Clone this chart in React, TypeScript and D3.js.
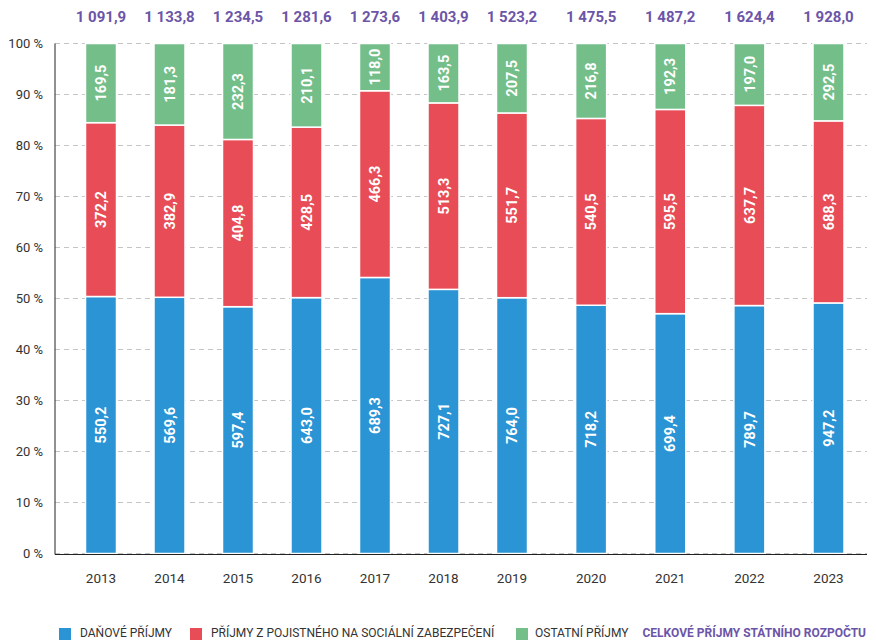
import React from "react";
import * as d3 from "d3";

// mld Kč
const years = [2013, 2014, 2015, 2016, 2017, 2018, 2019, 2020, 2021, 2022, 2023];
const danove = [550.2, 569.6, 597.4, 643.0, 689.3, 727.1, 764.0, 718.2, 699.4, 789.7, 947.2];
const pojistne = [372.2, 382.9, 404.8, 428.5, 466.3, 513.3, 551.7, 540.5, 595.5, 637.7, 688.3];
const ostatni = [169.5, 181.3, 232.3, 210.1, 118.0, 163.5, 207.5, 216.8, 192.3, 197.0, 292.5];
const celkem = [1091.9, 1133.8, 1234.5, 1281.6, 1273.6, 1403.9, 1523.2, 1475.5, 1487.2, 1624.4, 1928.0];
const yTicks = [0, 10, 20, 30, 40, 50, 60, 70, 80, 90, 100];

const seriesNames = ["DAŇOVÉ PŘÍJMY", "PŘÍJMY Z POJISTNÉHO NA SOCIÁLNÍ ZABEZPEČENÍ", "OSTATNÍ PŘÍJMY"];
const colors = ["#2a94d4", "#e84c57", "#74be8a"];
const totalLabel = "CELKOVÉ PŘÍJMY STÁTNÍHO ROZPOČTU";
const purple = "#6c55a8";

const W = 876;
const H = 641;
const left = 55;
const right = 867;
const top = 43.5;
const bottom = 553.5;
const barW = 31;
const font = "Roboto, 'Noto Sans', sans-serif";

const fmt = (v: number) => {
  const s = d3.format(",.1f")(v);
  return s.replace(/,/g, " ").replace(".", ",");
};

export default function App() {
  const rows = years.map((yr, i) => ({
    year: yr,
    danove: danove[i],
    pojistne: pojistne[i],
    ostatni: ostatni[i],
  }));
  const keys = ["danove", "pojistne", "ostatni"];
  const stacked = d3.stack<any>().keys(keys).offset(d3.stackOffsetExpand)(rows);

  // the source axis is not evenly spaced after 2019
  const x = d3.scaleLinear().domain([2013, 2019, 2023]).range([101, 512, 828.5]);
  const y = d3.scaleLinear().domain([0, 1]).range([bottom, top]);

  const legend = [
    { sq: 59, tx: 80 },
    { sq: 190, tx: 211 },
    { sq: 516, tx: 535 },
  ];
  const legendY = 633;

  return (
    <svg width={W} height={H} style={{ position: "absolute", left: 0, top: 0, fontFamily: font }}>
      {/* grid */}
      {yTicks.map((t) => (
        <g key={t}>
          <line x1={left} x2={right} y1={y(t / 100)} y2={y(t / 100)} stroke="#c4c4c4" strokeDasharray="5,4" />
          <text x={43} y={y(t / 100)} dy="0.35em" textAnchor="end" fontSize={13} fill="#333">
            {t} %
          </text>
        </g>
      ))}
      {/* bars */}
      {stacked.map((s, si) => (
        <g key={s.key} fill={colors[si]}>
          {s.map((d, i) => {
            const y0 = y(d[0]);
            const y1 = y(d[1]);
            const val = [danove, pojistne, ostatni][si][i];
            const cx = x(years[i]);
            const cy = (y0 + y1) / 2;
            return (
              <g key={i}>
                <rect x={cx - barW / 2} y={y1} width={barW} height={y0 - y1} stroke="#fff" strokeWidth={1.5} />
                <text
                  transform={`translate(${cx},${cy}) rotate(-90)`}
                  textAnchor="middle"
                  dy="0.36em"
                  fill="#fff"
                  fontWeight="bold"
                  fontSize={14.5}
                >
                  {fmt(val)}
                </text>
              </g>
            );
          })}
        </g>
      ))}
      {/* axes */}
      <line x1={left} x2={left} y1={top} y2={bottom + 1} stroke="#222" strokeWidth={1} />
      <line x1={left} x2={right} y1={bottom + 1} y2={bottom + 1} stroke="#222" strokeWidth={1.2} />
      {years.map((yr) => (
        <text key={yr} x={x(yr)} y={583} textAnchor="middle" fontSize={13.5} fill="#333">
          {yr}
        </text>
      ))}
      {/* totals */}
      {celkem.map((v, i) => (
        <text key={i} x={x(years[i])} y={22} textAnchor="middle" fontSize={15} fontWeight="bold" fill={purple}>
          {fmt(v)}
        </text>
      ))}
      {/* legend */}
      {seriesNames.map((n, i) => (
        <g key={n}>
          <rect x={legend[i].sq} y={legendY - 5} width={12} height={12} fill={colors[i]} />
          <text x={legend[i].tx} y={legendY} dy="0.36em" fontSize={12} fill="#333">
            {n}
          </text>
        </g>
      ))}
      <text x={866} y={legendY} dy="0.36em" textAnchor="end" fontSize={12} fontWeight="bold" fill={purple}>
        {totalLabel}
      </text>
    </svg>
  );
}
